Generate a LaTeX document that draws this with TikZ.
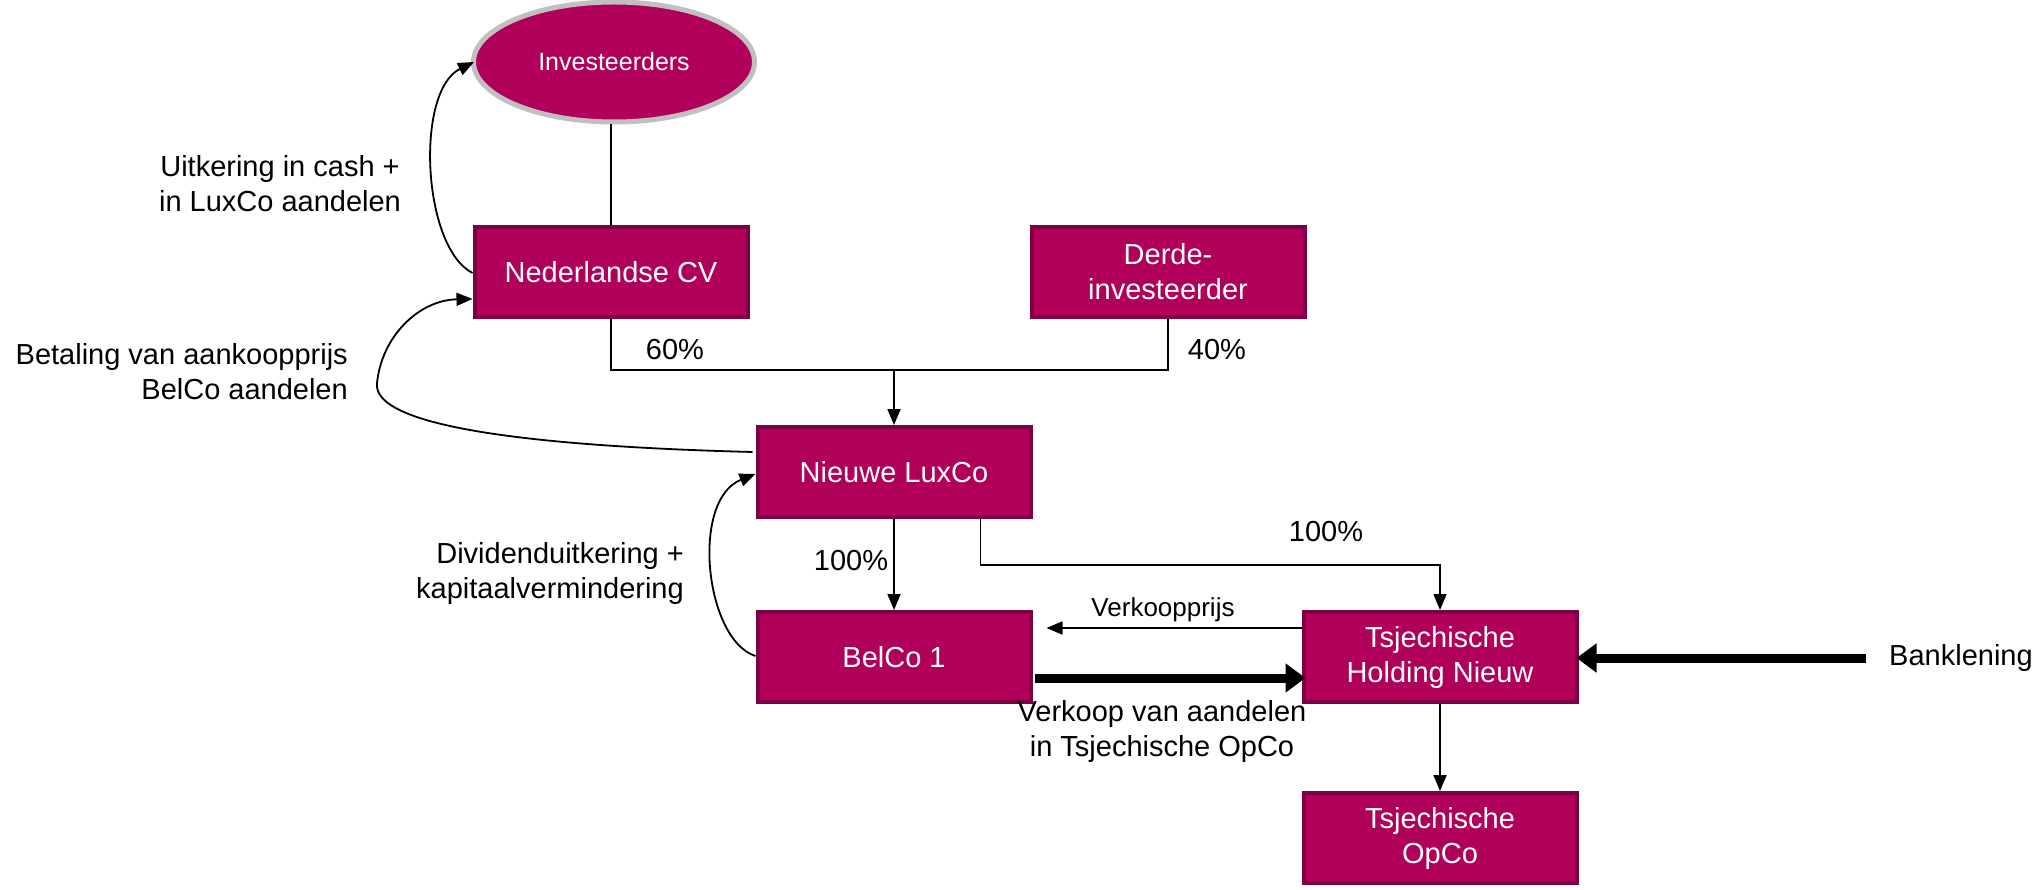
\documentclass[tikz,border=0pt]{standalone}
\usepackage{fontspec}
\setmainfont{Liberation Sans}
\usetikzlibrary{arrows.meta,shapes.geometric,calc}
\definecolor{boxfill}{RGB}{176,0,90}
\definecolor{boxline}{RGB}{126,0,66}
\definecolor{ringgray}{RGB}{192,192,192}
\begin{document}
\begin{tikzpicture}[x=1pt,y=-1pt,
  entity/.style={rectangle, fill=boxfill, draw=boxline, line width=4pt,
    minimum width=273pt, minimum height=90pt, inner sep=0pt, text=white,
    align=center, font=\fontsize{29}{35}\selectfont},
  lbl/.style={font=\fontsize{29}{35}\selectfont, inner sep=0pt},
  conn/.style={line width=1.8pt},
  arr/.style={conn, -{Triangle[length=16pt,width=13pt]}},
  bigarrow/.style={line width=9pt, -{Triangle[length=20pt,width=28pt]}}]
\useasboundingbox (0,0) rectangle (2036,890);

% nodes
\node[ellipse, fill=boxfill, draw=ringgray, line width=5pt, minimum width=281pt,
      minimum height=120pt, inner sep=0pt, text=white,
      font=\fontsize{25}{30}\selectfont] (inv) at (614,62) {Investeerders};
\node[entity] (ned) at (611,272) {Nederlandse CV};
\node[entity] (derde) at (1168,272) {Derde-\\investeerder};
\node[entity] (lux) at (894,472) {Nieuwe LuxCo};
\node[entity] (belco) at (894,657) {BelCo 1};
\node[entity] (hold) at (1440,657) {Tsjechische\\Holding Nieuw};
\node[entity] (opco) at (1440,838) {Tsjechische\\OpCo};
\node[lbl, anchor=west] (bank) at (1889,658) {Banklening};

% labels
\node[lbl] (p60) at (675,350) {60\%};
\node[lbl] (p40) at (1217,350) {40\%};
\node[lbl] (p100a) at (851,561) {100\%};
\node[lbl] (p100b) at (1326,532) {100\%};
\node[lbl, font=\fontsize{26}{31}\selectfont] (vkp) at (1163,610) {Verkoopprijs};
\node[lbl, align=center] (vka) at (1162,731) {Verkoop van aandelen\\in Tsjechische OpCo};
\node[lbl, align=center] (uit) at (280,184) {Uitkering in cash +\\in LuxCo aandelen};
\node[lbl, align=right, anchor=east] (bet) at (348,372) {Betaling van aankoopprijs\\BelCo aandelen};
\node[lbl, align=right, anchor=east] (div) at (684,573) {Dividenduitkering +\\kapitaalvermindering};

% connectors
\draw[conn] (inv.south -| ned.north) -- (ned.north);
\coordinate (j) at ($(lux.north)+(0,-55)$);
\draw[conn] (ned.south) |- (j) -| (derde.south);
\draw[arr] (j) -- (lux.north);
\draw[arr] (lux.south) -- (belco.north);
\coordinate (la) at ($(lux.south east)+(-52,0)$);
\coordinate (k) at (hold.north |- 0,565);
\draw[arr] (la) |- (k) -- (hold.north);
\draw[arr] (hold.south) -- (opco.north);
\draw[arr, shorten >=14pt] (hold.west |- 0,628) -- (belco.east |- 0,628);
\draw[bigarrow] ($(belco.east |- 0,678)+(2,0)$) -- ($(hold.west |- 0,678)+(4,0)$);
\draw[bigarrow] ($(bank.west)+(-23,0)$) -- ($(hold.east |- bank.west)+(-2,0)$);

% curved arrows
\draw[arr] ($(ned.west)+(0,1)$) .. controls (422,247) and (415,91) .. ($(inv.west)+(3,0)$);
\draw[arr] ($(lux.west)+(-3,-20)$) .. controls (520,446) and (372,425) .. (377,383)
   .. controls (382,335) and (420,300) .. ($(ned.west)+(0,27)$);
\draw[arr] ($(belco.west)+(0,-1)$) .. controls (705,640) and (690,500) .. ($(lux.west)+(0,2)$);
\end{tikzpicture}
\end{document}
